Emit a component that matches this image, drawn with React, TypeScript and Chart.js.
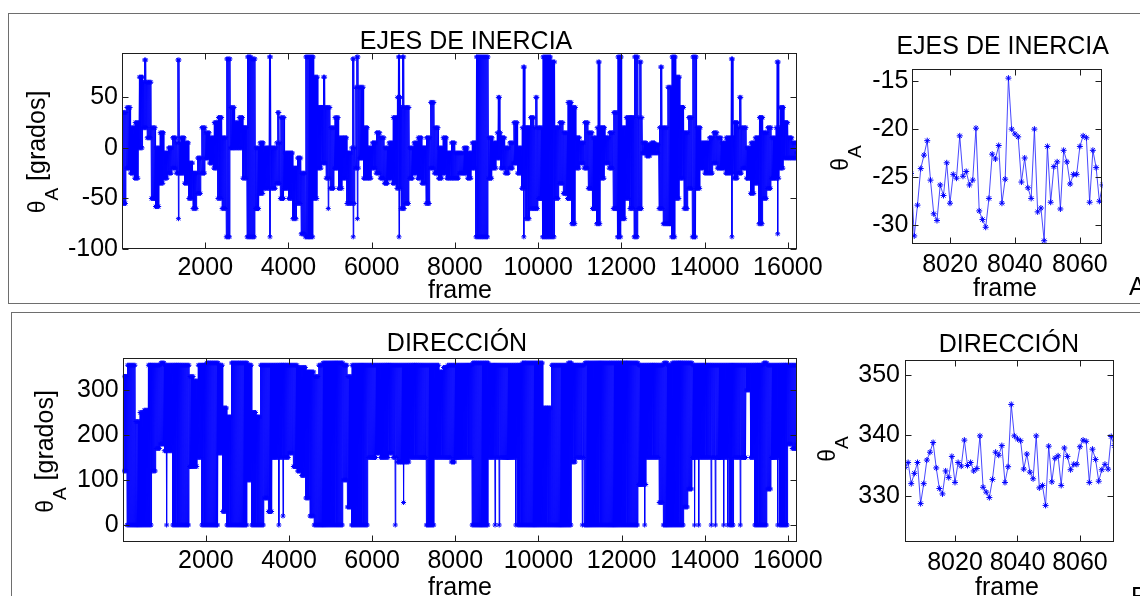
import React, { useEffect, useRef } from "react";
import { Chart, registerables } from "chart.js";

Chart.register(...registerables);

const FONT = "'Liberation Sans', Arial, Helvetica, sans-serif";

// ---------------- DATA ----------------
// Full-length series, summarised per bin of frames (lowest / highest value of the bin body)
const binFrames = 100;
const samplesPerBin = 8;

const inerciaLow = [
  -55, -20, -25, -30, 0, 20, 10, -50, -58, -35,
  -30, -25, -20, -25, -25, -35, -50, -60, -45, -25,
  -10, -15, -20, -50, -60, -88, 0, 0, 0, -30,
  -88, -88, -60, -45, -40, -40, -40, -35, -50, -40,
  -50, -70, -55, -85, -88, -88, -50, -20, -15, -30,
  -40, -20, -40, -30, -55, -55, -20, -10, -30, -30,
  -20, -25, -30, -35, -30, -35, -40, -60, -55, -30,
  -25, -30, -35, -55, -20, -25, -30, -25, -30, -30,
  -30, -25, -25, -30, -20, -88, -88, -88, -30, -20,
  -10, -20, -25, -20, -15, -25, -40, -70, -60, -60,
  -50, -88, -88, -88, -50, -35, -45, -50, -75, -20,
  -15, -20, -40, -60, -75, -30, -15, -20, -60, -88,
  -70, -50, -60, -88, -60, -5, -8, -5, -5, -60,
  -75, -75, -88, -50, -30, -60, -40, -88, -40, -20,
  -25, -25, -15, -20, -20, -25, -25, -30, -25, -20,
  -30, -45, -35, -75, -50, -40, -30, -30, -20, -10,
  -10, -10, -5,
];
const inerciaHigh = [
  35, 40, 20, 25, 70, 65, 65, 20, 0, 15,
  -5, 0, 10, 5, 10, 5, -15, -25, -10, 20,
  15, 10, 25, 30, 10, 88, 40, 25, 30, 20,
  90, 88, 0, 5, 0, 0, 0, 5, 30, -5,
  -5, -20, -10, -25, 90, 90, 70, 40, 40, 40,
  20, 30, 10, 10, -5, 0, 60, 60, 20, 0,
  5, 15, 10, 0, 5, 30, 50, 40, 40, 0,
  5, 10, 0, 10, 45, 20, 0, 10, -5, 5,
  -5, -5, 0, -5, 5, 90, 90, 90, 10, 5,
  15, 10, 0, 5, 25, 0, 20, 20, 30, 20,
  20, 90, 90, 85, 20, 25, 15, 45, 40, 10,
  5, 25, 15, 10, 20, 20, 10, 15, 35, 90,
  20, 30, 30, 90, 30, 5, 3, 5, 3, 20,
  20, 60, 90, 70, 40, 15, 30, 90, 20, 5,
  5, 10, 15, 10, 5, 10, 10, 25, 20, 20,
  0, 5, 10, 30, 15, 20, 10, 20, 40, 25,
  10, 5, 5,
];
// isolated excursions: [bin, low, high]
const inerciaSpikes = [
  [5, 20, 87], [13, -70, 87], [35, -88, 90], [37, -35, 35], [48, -15, 70],
  [49, -60, 40], [55, -88, 88], [56, -70, 90], [66, -88, 90], [67, -60, 90],
  [90, -10, 50], [96, -88, 80], [99, -60, 50], [114, -75, 85], [124, -60, 85],
  [129, -60, 80], [146, -88, 88], [148, -25, 50], [157, -85, 85],
];

const direccionLow = [
  120, 0, 0, 0, 0, 0, 0, 120, 170, 180,
  165, 165, 0, 0, 0, 0, 130, 130, 150, 0,
  0, 0, 0, 160, 30, 0, 0, 0, 0, 0,
  100, 0, 0, 0, 60, 30, 150, 150, 150, 150,
  160, 130, 120, 110, 60, 20, 0, 0, 0, 0,
  0, 0, 0, 100, 40, 0, 0, 0, 0, 150,
  150, 160, 150, 150, 160, 150, 140, 140, 140, 150,
  150, 150, 150, 0, 0, 150, 150, 150, 150, 140,
  150, 150, 150, 150, 0, 0, 0, 0, 150, 150,
  150, 150, 150, 150, 150, 0, 0, 0, 0, 0,
  0, 0, 0, 0, 0, 0, 0, 0, 140, 150,
  150, 0, 0, 0, 0, 0, 0, 0, 0, 0,
  0, 0, 0, 0, 90, 90, 150, 150, 150, 50,
  0, 0, 0, 0, 0, 40, 80, 150, 150, 150,
  150, 150, 150, 150, 150, 150, 0, 150, 150, 150,
  300, 150, 0, 0, 0, 80, 150, 150, 0, 0,
  180, 170, 180,
];
const direccionHigh = [
  330, 355, 355, 230, 250, 255, 355, 355, 355, 360,
  355, 355, 355, 355, 355, 355, 330, 320, 355, 355,
  360, 360, 360, 355, 260, 240, 360, 360, 360, 360,
  355, 250, 240, 355, 355, 355, 355, 355, 355, 355,
  355, 355, 350, 350, 340, 340, 330, 355, 360, 360,
  360, 360, 360, 355, 330, 355, 355, 355, 355, 355,
  355, 355, 355, 355, 355, 355, 355, 355, 355, 355,
  355, 355, 355, 355, 355, 355, 340, 350, 355, 355,
  355, 355, 355, 355, 360, 360, 360, 360, 355, 355,
  355, 355, 355, 355, 355, 355, 360, 360, 360, 360,
  360, 260, 260, 355, 355, 355, 355, 360, 355, 355,
  355, 360, 360, 360, 360, 360, 360, 360, 360, 360,
  360, 360, 360, 360, 355, 355, 355, 355, 355, 355,
  360, 355, 360, 360, 360, 360, 360, 355, 355, 355,
  355, 355, 355, 355, 355, 355, 355, 355, 355, 355,
  355, 355, 355, 355, 360, 355, 355, 355, 355, 355,
  355, 355, 355,
];
const direccionSpikes = [
  [10, 0, 355], [37, 0, 355], [38, 20, 355], [65, 0, 355], [67, 50, 355],
  [89, 0, 355], [90, 0, 355], [94, 0, 355], [110, 0, 355], [125, 0, 355],
  [137, 0, 355], [138, 0, 355], [141, 0, 355], [142, 0, 355], [144, 0, 355],
  [145, 0, 355], [148, 0, 355], [157, 0, 355],
];

// Detail windows: one value per frame
const inerciaZoomStart = 8008;
const inerciaZoomValues = [
  -24.6, -31.1, -27.9, -24.1, -22.7, -21.2, -25.3, -28.8, -29.5, -25.8,
  -26.9, -23.5, -27.7, -24.7, -25.1, -20.7, -24.9, -24.4, -25.8, -25.3,
  -19.9, -28.5, -29.4, -30.2, -27.2, -22.6, -23.1, -21.7, -27.7, -25.2,
  -14.7, -20.0, -20.5, -20.8, -25.5, -23.0, -26.1, -27.2, -20.0, -28.6,
  -28.2, -31.6, -21.8, -27.6, -23.9, -23.4, -28.3, -22.2, -23.4, -25.7,
  -24.7, -24.7, -21.8, -20.7, -20.9, -27.6, -22.2, -24.0, -27.5, -25.8,
];
const direccionZoomStart = 8004;
const direccionZoomValues = [
  334.7, 335.5, 332.0, 333.7, 335.5, 328.7, 332.0, 335.9, 337.2, 338.8,
  334.6, 331.2, 330.3, 334.1, 333.0, 336.5, 332.2, 335.5, 334.9, 339.2,
  335.0, 335.5, 334.1, 334.5, 339.9, 331.4, 330.6, 329.7, 332.7, 337.2,
  336.7, 338.3, 332.2, 334.8, 345.1, 339.9, 339.4, 339.1, 334.4, 336.9,
  333.9, 332.8, 339.9, 331.3, 331.7, 328.4, 338.2, 332.3, 336.2, 336.6,
  331.7, 337.9, 336.5, 334.3, 335.2, 335.2, 338.1, 339.2, 339.0, 332.2,
  337.7, 336.0, 332.4, 334.3, 335.2, 334.4, 339.8, 338.3,
];

// Tick labels
const bigXTicks = [2000, 4000, 6000, 8000, 10000, 12000, 14000, 16000];
const inerciaYTicks = [-100, -50, 0, 50];
const direccionYTicks = [0, 100, 200, 300];
const zoomXTicks = [8020, 8040, 8060];
const inerciaZoomYTicks = [-30, -25, -20, -15];
const direccionZoomYTicks = [330, 340, 350];

// ---------------- TABLE BUILDERS ----------------
// each bin is drawn as a dense back-and-forth between its low and high;
// an isolated excursion replaces the middle low/high pairs of its bin
function binnedTable(low: number[], high: number[], spikes: number[][]) {
  const spikeMap = new Map<number, number[]>();
  for (const s of spikes) spikeMap.set(s[0], s);
  const pts: { x: number; y: number }[] = [];
  const step = binFrames / samplesPerBin;
  for (let i = 0; i < low.length; i++) {
    const sp = spikeMap.get(i);
    for (let k = 0; k < samplesPerBin; k++) {
      let y = k % 2 === 0 ? low[i] : high[i];
      if (sp && k >= 3 && k <= 5) y = k % 2 === 0 ? sp[1] : sp[2];
      pts.push({ x: i * binFrames + (k + 0.5) * step, y });
    }
  }
  return pts;
}
function frameTable(start: number, values: number[]) {
  return values.map((v, i) => ({ x: start + i, y: v }));
}

// ---------------- DRAWING ----------------
const W = 1140;
const H = 596;
const Y_W = 100;
const X_H = 50;

const matlabPlugin = {
  id: "matlabAxes",
  afterDatasetsDraw(chart: any, _args: any, opts: any) {
    const { ctx, chartArea: a, scales } = chart;
    ctx.save();
    ctx.strokeStyle = "#1e1e1e";
    ctx.lineWidth = 1;
    const L = Math.round(a.left) + 0.5;
    const R = Math.round(a.right) - 0.5;
    const T = Math.round(a.top) + 0.5;
    const B = Math.round(a.bottom) - 0.5;
    ctx.strokeRect(L, T, R - L, B - T);
    const tl = 6;
    ctx.beginPath();
    for (const t of scales.x.ticks) {
      const px = Math.round(scales.x.getPixelForValue(t.value)) + 0.5;
      ctx.moveTo(px, B);
      ctx.lineTo(px, B - tl);
      ctx.moveTo(px, T);
      ctx.lineTo(px, T + tl);
    }
    for (const t of scales.y.ticks) {
      const py = Math.round(scales.y.getPixelForValue(t.value)) + 0.5;
      ctx.moveTo(L, py);
      ctx.lineTo(L + tl, py);
      ctx.moveTo(R, py);
      ctx.lineTo(R - tl, py);
    }
    ctx.stroke();

    ctx.fillStyle = "#000";
    ctx.textBaseline = "alphabetic";
    ctx.font = `25px ${FONT}`;
    ctx.textAlign = "center";
    ctx.fillText(opts.title.text, opts.title.x, opts.title.y);
    ctx.fillText(opts.xLabel.text, opts.xLabel.x, opts.xLabel.y);
    ctx.textAlign = "left";
    for (const e of opts.extra || []) ctx.fillText(e.text, e.x, e.y);

    // y label: theta with subscript A (+ units)
    const yl = opts.yLabel;
    ctx.save();
    ctx.translate(yl.x, yl.cy);
    ctx.rotate(-Math.PI / 2);
    ctx.font = `23px ${FONT}`;
    const wT = ctx.measureText("\u03b8").width;
    ctx.font = `19px ${FONT}`;
    const wA = ctx.measureText("A").width;
    ctx.font = `25px ${FONT}`;
    const wR = yl.rest ? ctx.measureText(yl.rest).width : 0;
    let x0 = -(wT + wA + wR) / 2;
    ctx.textAlign = "left";
    ctx.font = `23px ${FONT}`;
    ctx.fillText("\u03b8", x0, 0);
    x0 += wT;
    ctx.font = `19px ${FONT}`;
    ctx.fillText("A", x0, 13);
    x0 += wA;
    if (yl.rest) {
      ctx.font = `25px ${FONT}`;
      ctx.fillText(yl.rest, x0, 0);
    }
    ctx.restore();
    ctx.restore();
  },
};

type Spec = {
  data: { x: number; y: number }[];
  xMin: number; xMax: number; yMin: number; yMax: number;
  xTicks: number[]; yTicks: number[];
  area: { left: number; right: number; top: number; bottom: number };
  xPad: number; yPad: number;
  pointRadius: number; lineColor: string;
  labels: any;
};

function buildConfig(s: Spec): any {
  return {
    type: "scatter",
    data: {
      datasets: [
        {
          data: s.data,
          showLine: true,
          borderColor: s.lineColor,
          borderWidth: 1,
          pointStyle: "star",
          pointRadius: s.pointRadius,
          pointBorderWidth: 1,
          pointBorderColor: "#0000ff",
          pointBackgroundColor: "#0000ff",
          clip: 0,
        },
      ],
    },
    options: {
      responsive: false,
      animation: false,
      devicePixelRatio: 1,
      events: [],
      layout: {
        padding: {
          left: s.area.left - Y_W,
          right: W - s.area.right,
          top: s.area.top,
          bottom: H - s.area.bottom - X_H,
        },
      },
      plugins: {
        legend: { display: false },
        tooltip: { enabled: false },
        title: { display: false },
        matlabAxes: s.labels,
      },
      scales: {
        x: {
          type: "linear",
          position: "bottom",
          min: s.xMin,
          max: s.xMax,
          grid: { display: false, drawTicks: false },
          border: { display: false },
          afterBuildTicks: (sc: any) => {
            sc.ticks = s.xTicks.map((v) => ({ value: v }));
          },
          afterFit: (sc: any) => {
            sc.height = X_H;
          },
          ticks: {
            color: "#000",
            font: { family: FONT, size: 25 },
            padding: s.xPad,
            maxRotation: 0,
            autoSkip: false,
            includeBounds: false,
            callback: (v: any) => String(v),
          },
        },
        y: {
          type: "linear",
          position: "left",
          min: s.yMin,
          max: s.yMax,
          grid: { display: false, drawTicks: false },
          border: { display: false },
          afterBuildTicks: (sc: any) => {
            sc.ticks = s.yTicks.map((v) => ({ value: v }));
          },
          afterFit: (sc: any) => {
            sc.width = Y_W;
          },
          ticks: {
            color: "#000",
            font: { family: FONT, size: 25 },
            padding: s.yPad,
            autoSkip: false,
            includeBounds: false,
            callback: (v: any) => String(v),
          },
        },
      },
    },
    plugins: [matlabPlugin],
  };
}

function MatlabAxes({ spec }: { spec: Spec }) {
  const ref = useRef<HTMLCanvasElement | null>(null);
  useEffect(() => {
    if (!ref.current) return;
    const chart = new Chart(ref.current, buildConfig(spec));
    return () => chart.destroy();
  }, []);
  return (
    <canvas
      ref={ref}
      width={W}
      height={H}
      style={{ position: "absolute", left: 0, top: 0, width: W, height: H }}
    />
  );
}

const specs: Spec[] = [
  {
    data: binnedTable(inerciaLow, inerciaHigh, inerciaSpikes),
    xMin: 0, xMax: 16220, yMin: -100, yMax: 93.6,
    xTicks: bigXTicks, yTicks: inerciaYTicks,
    area: { left: 122, right: 797, top: 53.3, bottom: 249 },
    xPad: 4, yPad: 4,
    pointRadius: 2.5, lineColor: "#0000ff",
    labels: {
      title: { text: "EJES DE INERCIA", x: 466, y: 49 },
      xLabel: { text: "frame", x: 460, y: 298 },
      yLabel: { x: 45, cy: 152, rest: " [grados]" },
      extra: [{ text: "A", x: 1129, y: 295 }],
    },
  },
  {
    data: frameTable(inerciaZoomStart, inerciaZoomValues),
    xMin: 8008.4, xMax: 8066.9, yMin: -31.97, yMax: -13.75,
    xTicks: zoomXTicks, yTicks: inerciaZoomYTicks,
    area: { left: 912.3, right: 1102.3, top: 69, bottom: 244.3 },
    xPad: 6, yPad: 4,
    pointRadius: 3, lineColor: "rgba(40,40,255,0.85)",
    labels: {
      title: { text: "EJES DE INERCIA", x: 1002.7, y: 54 },
      xLabel: { text: "frame", x: 1005, y: 296 },
      yLabel: { x: 848, cy: 158 },
    },
  },
  {
    data: binnedTable(direccionLow, direccionHigh, direccionSpikes),
    xMin: 0, xMax: 16220, yMin: -38.4, yMax: 370.4,
    xTicks: bigXTicks, yTicks: direccionYTicks,
    area: { left: 122.7, right: 797, top: 358.3, bottom: 542.3 },
    xPad: 4, yPad: 4,
    pointRadius: 2.5, lineColor: "#0000ff",
    labels: {
      title: { text: "DIRECCIÓN", x: 457, y: 351 },
      xLabel: { text: "frame", x: 460, y: 595 },
      yLabel: { x: 53, cy: 451.5, rest: " [grados]" },
      extra: [{ text: "B", x: 1131, y: 605 }],
    },
  },
  {
    data: frameTable(direccionZoomStart, direccionZoomValues),
    xMin: 8004, xMax: 8070.8, yMin: 322.3, yMax: 352.4,
    xTicks: zoomXTicks, yTicks: direccionZoomYTicks,
    area: { left: 905, right: 1113.7, top: 360.3, bottom: 542.3 },
    xPad: 6, yPad: 5,
    pointRadius: 3, lineColor: "rgba(40,40,255,0.85)",
    labels: {
      title: { text: "DIRECCIÓN", x: 1008.8, y: 351.7 },
      xLabel: { text: "frame", x: 1007, y: 595 },
      yLabel: { x: 835, cy: 449 },
    },
  },
];

export default function App() {
  return (
    <div
      style={{
        position: "absolute",
        left: 0,
        top: 0,
        width: W,
        height: H,
        overflow: "hidden",
        background: "#fff",
      }}
    >
      <div
        style={{
          position: "absolute",
          left: 8,
          top: 13,
          width: 1200,
          height: 289,
          border: "1px solid #6e6e6e",
        }}
      />
      <div
        style={{
          position: "absolute",
          left: 11,
          top: 312,
          width: 1200,
          height: 400,
          border: "1px solid #6e6e6e",
        }}
      />
      {specs.map((s, i) => (
        <MatlabAxes key={i} spec={s} />
      ))}
    </div>
  );
}
